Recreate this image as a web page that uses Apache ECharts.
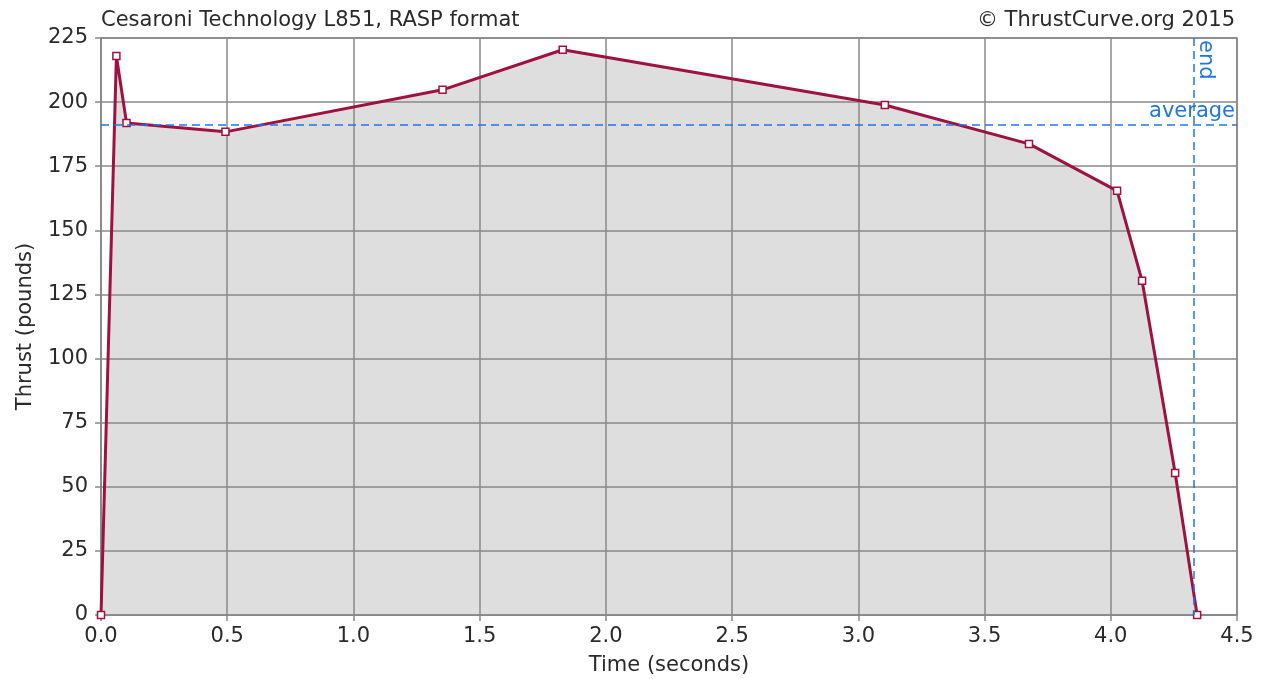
<!DOCTYPE html>
<html><head><meta charset="utf-8">
<script src="https://cdn.jsdelivr.net/npm/echarts@6/dist/echarts.min.js"></script>
<style>html,body{margin:0;padding:0;background:#fff}#c{width:1262px;height:679px}</style>
</head><body><div id="c"></div>
<script>
const titleText = 'Cesaroni Technology L851, RASP format';
const creditText = '\u00a9 ThrustCurve.org 2015';
const timeSec = [0, 0.061, 0.101, 0.493, 1.353, 1.829, 3.105, 3.676, 4.025, 4.124, 4.255, 4.342];
const thrustLb = [0, 218.0, 191.9, 188.4, 204.8, 220.4, 198.9, 183.7, 165.4, 130.3, 55.4, 0];
const averageThrust = 191.3;
const burnEnd = 4.327;
const xTicks = { min: 0, max: 4.5, interval: 0.5 };
const yTicks = { min: 0, max: 225, interval: 25 };

const font = 'DejaVu Sans';
const fs = 21;
const txt = '#2a2a2a';
const gridCol = '#888';
const blue = '#2277dd';
const curveCol = '#9e1240';
const pts = timeSec.map((t, i) => [t, thrustLb[i]]);
const chart = echarts.init(document.getElementById('c'));
chart.setOption({
  animation: false,
  backgroundColor: '#fff',
  textStyle: { fontFamily: font },
  title: [
    { text: titleText, left: 96, top: 5, textStyle: { fontFamily: font, fontSize: fs, fontWeight: 'normal', color: txt } },
    { text: creditText, right: 22, top: 5, textStyle: { fontFamily: font, fontSize: fs, fontWeight: 'normal', color: txt } }
  ],
  grid: { left: 101, right: 25, top: 38, bottom: 64, outerBoundsMode: 'none', containLabel: false, show: true, borderColor: gridCol, borderWidth: 1.5, backgroundColor: 'transparent' },
  xAxis: {
    type: 'value', min: xTicks.min, max: xTicks.max, interval: xTicks.interval, z: 1,
    name: 'Time (seconds)', nameLocation: 'middle', nameGap: 40,
    nameTextStyle: { fontFamily: font, fontSize: fs, color: txt },
    axisLine: { show: true, lineStyle: { color: gridCol, width: 1.5 } },
    axisTick: { show: true, length: 6, lineStyle: { color: gridCol, width: 1.5 } },
    axisLabel: { fontFamily: font, fontSize: fs, color: txt, margin: 11, formatter: v => v.toFixed(1) },
    splitLine: { show: true, lineStyle: { color: gridCol, width: 1.5 } }
  },
  yAxis: {
    type: 'value', min: yTicks.min, max: yTicks.max, interval: yTicks.interval, z: 1,
    name: 'Thrust (pounds)', nameLocation: 'middle', nameGap: 65, nameRotate: 90,
    nameTextStyle: { fontFamily: font, fontSize: fs, color: txt },
    axisLine: { show: true, lineStyle: { color: gridCol, width: 1.5 } },
    axisTick: { show: true, length: 6, lineStyle: { color: gridCol, width: 1.5 } },
    axisLabel: { fontFamily: font, fontSize: fs, color: txt, margin: 13 },
    splitLine: { show: true, lineStyle: { color: gridCol, width: 1.5 } }
  },
  series: [{
    type: 'line', data: pts, symbol: 'none', silent: true, z: 0,
    lineStyle: { width: 0, opacity: 0 },
    areaStyle: { color: '#dedede', opacity: 1 }
  }, {
    type: 'line',
    data: pts,
    symbol: 'rect', symbolSize: 7, showAllSymbol: true,
    itemStyle: { color: '#fff', borderColor: curveCol, borderWidth: 1.5 },
    lineStyle: { color: curveCol, width: 3 },
    z: 3,
    markLine: {
      silent: true, symbol: 'none', animation: false,
      lineStyle: { color: blue, type: [8, 5], width: 1.5 },
      data: [
        { yAxis: averageThrust, label: { show: true, position: 'insideEndTop', formatter: 'average', color: blue, fontFamily: font, fontSize: fs, distance: 2 } },
        [ { coord: [burnEnd, yTicks.max] }, { coord: [burnEnd, yTicks.min],
          label: { show: true, position: 'insideStartTop', formatter: 'end', color: blue, fontFamily: font, fontSize: fs, distance: 2 } } ]
      ]
    }
  }]
});
</script></body></html>
